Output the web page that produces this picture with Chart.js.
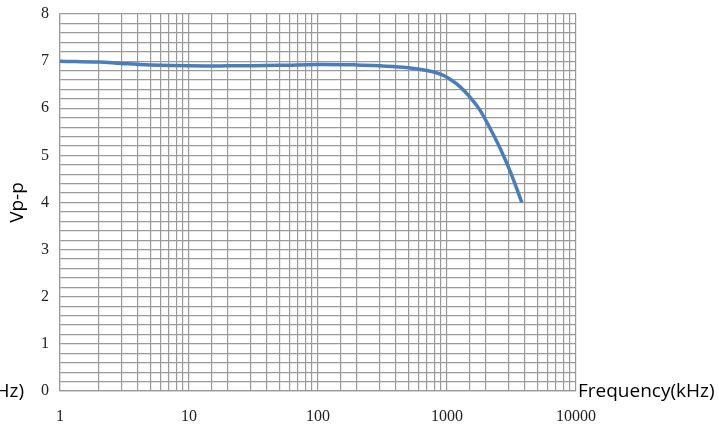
<!DOCTYPE html>
<html>
<head>
<meta charset="utf-8">
<script src="https://cdn.jsdelivr.net/npm/chart.js@4.4.0/dist/chart.umd.min.js"></script>
<style>
    html, body { margin: 0; padding: 0; background: #fff; }
    #wrap { width: 719px; height: 425px; position: relative; }
</style>
</head>
<body>
<div id="wrap"><canvas id="freqChart"></canvas></div>
<script>
// Frequency response (kHz vs Vp-p)
const freqKHz = [1, 2, 3, 5, 10, 20, 50, 100, 200, 300, 500, 700, 900, 1050, 1260, 1500, 1800, 2150, 2600, 3100, 3800];
const vpp = [7.0, 6.98, 6.95, 6.92, 6.9, 6.9, 6.91, 6.93, 6.92, 6.9, 6.86, 6.8, 6.72, 6.62, 6.46, 6.24, 5.96, 5.58, 5.13, 4.65, 4.0];
const xTickLabels = [1, 10, 100, 1000, 10000];
const yTickLabels = [0, 1, 2, 3, 4, 5, 6, 7, 8];

const gridColor = '#9a9a9a';

// Eksen başlığı sağ tarafta (ve solda kesik kopyası)
const freqTitle = {
    id: 'freqTitle',
    afterDraw(chart) {
        const ctx = chart.ctx;
        const y = 397;
        ctx.save();
        ctx.font = '19px "Open Sans", sans-serif';
        ctx.fillStyle = '#000';
        ctx.textBaseline = 'alphabetic';
        ctx.textAlign = 'left';
        ctx.fillText('Frequency(kHz)', chart.chartArea.right + 2, y);
        ctx.textAlign = 'right';
        ctx.fillText('Frequency(kHz)', 24, y);
        ctx.restore();
    }
};

const ctx = document.getElementById('freqChart').getContext('2d');
new Chart(ctx, {
    type: 'line',
    data: {
        datasets: [{
            data: freqKHz.map((f, i) => ({ x: f, y: vpp[i] })),
            borderColor: '#4a7ebb',
            borderWidth: 3.5,
            pointRadius: 0,
            tension: 0.4,
            fill: false
        }]
    },
    options: {
        responsive: true,
        maintainAspectRatio: false,
        animation: false,
        layout: {
            padding: { left: 0, right: 143, top: 14, bottom: 0 }
        },
        scales: {
            x: {
                type: 'logarithmic',
                min: 1,
                max: 10000,
                afterFit(scale) {
                    scale.height = 34;
                    scale.paddingLeft = 0;
                    scale.paddingRight = 0;
                },
                grid: { color: gridColor, lineWidth: 1.2, drawTicks: false },
                border: { color: gridColor, width: 1.2 },
                ticks: {
                    autoSkip: false,
                    maxRotation: 0,
                    padding: 16,
                    color: '#222',
                    font: { family: '"Liberation Serif", serif', size: 16 },
                    callback: function(value) {
                        return xTickLabels.includes(value) ? String(value) : '';
                    }
                }
            },
            y: {
                min: 0,
                max: 8,
                afterFit(scale) {
                    scale.width = 60;
                    scale.paddingTop = 0;
                    scale.paddingBottom = 0;
                },
                grid: { color: gridColor, lineWidth: 1.2, drawTicks: false },
                border: { color: gridColor, width: 1.2 },
                title: {
                    display: true,
                    text: 'Vp-p',
                    color: '#000',
                    font: { family: '"Open Sans", sans-serif', size: 19 },
                    padding: { top: 6, bottom: 0 }
                },
                ticks: {
                    stepSize: 0.2,
                    autoSkip: false,
                    padding: 11,
                    color: '#222',
                    font: { family: '"Liberation Serif", serif', size: 16 },
                    callback: function(value) {
                        const r = Math.round(value);
                        return (Math.abs(value - r) < 1e-6 && yTickLabels.includes(r)) ? String(r) : '';
                    }
                }
            }
        },
        plugins: {
            legend: { display: false },
            tooltip: { enabled: false }
        }
    },
    plugins: [freqTitle]
});
</script>
</body>
</html>
